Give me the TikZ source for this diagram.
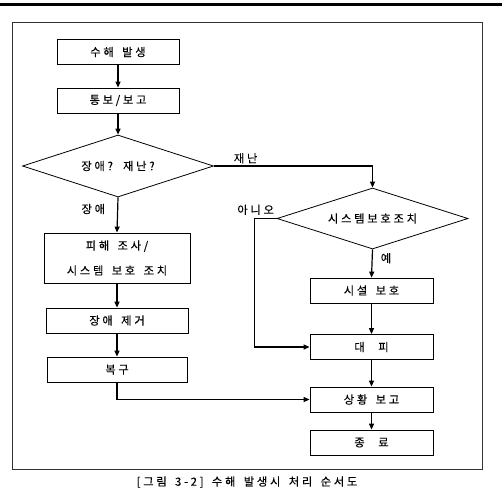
\documentclass[tikz,border=0pt]{standalone}
\usepackage{fontspec}
\usepackage{tikz}
\usetikzlibrary{arrows.meta,positioning,shapes.geometric}
\newfontfamily\krfont[LetterSpace=24,FakeBold=0.2,WordSpace=1.6]{Noto Sans CJK KR}

\begin{document}
\begin{tikzpicture}[x=1pt,y=-1pt,
    font=\krfont\fontsize{11.3pt}{25pt}\selectfont,
    box/.style={draw, line width=0.8pt, minimum height=25pt, inner sep=0pt},
    decision/.style={draw, diamond, line width=0.8pt, inner sep=0pt,
      minimum width=191pt, minimum height=62pt, aspect=3},
    flow/.style={line width=1.2pt, -{Triangle[length=6pt,width=5pt]}},
    lbl/.style={inner sep=2pt}]
  \useasboundingbox (0,0) rectangle (502,491);
  \draw[line width=3pt] (0,4.5) -- (502,4.5);
  \draw[line width=0.8pt, black!80] (12,22) rectangle (482,469);

  % left column
  \node[box, minimum width=122pt] (flood) at (118,52) {수해 발생};
  \node[box, minimum width=122pt] (notify) at (118,100.5) {통보/보고};
  \node[decision] (kind) at (118,166) {장애? 재난?};
  \node[box, minimum width=146pt, minimum height=50pt, align=center] (survey) at (117,258)
    {피해 조사/\\시스템 보호 조치};
  \node[box, minimum width=142pt] (clear) at (117,320.5) {장애 제거};
  \node[box, minimum width=140pt] (restore) at (117,369.5) {복구};

  % right column
  \node[decision, minimum height=61pt] (protect) at (372.5,218.5) {시스템보호조치};
  \node[box, minimum width=123pt] (facility) at (371.5,290.5) {시설 보호};
  \node[box, minimum width=123pt] (evacuate) at (371.5,347) {대\hspace{1.2em}피};
  \node[box, minimum width=123pt] (report) at (371.5,399.5) {상황 보고};
  \node[box, minimum width=123pt] (finish) at (371.5,442.5) {종\hspace{1.2em}료};

  \draw[flow] (flood) -- (notify);
  \draw[flow] (notify) -- (kind);
  \draw[flow] (kind.south) -- node[lbl, left=10pt, pos=0.33] {장애} (survey.north);
  \draw[flow] (kind.east) -- node[lbl, above, pos=0.2] {재난} (protect.north |- kind.east) -- (protect.north);
  \draw[flow] (protect.west) node[lbl, above left=1pt and 0pt] {아니오} -- ++(-22,0) |- (evacuate.west);
  \draw[flow] (protect.south) -- node[lbl, right=6pt, pos=0.31] {예} (facility.north);
  \draw[flow] (survey) -- (clear);
  \draw[flow] (clear) -- (restore);
  \draw[flow] (restore.south) |- (report.west);
  \draw[flow] (facility) -- (evacuate);
  \draw[flow] (evacuate) -- (report);
  \draw[flow] (report) -- (finish);

  \node[lbl] (caption) at (247,482) {[그림 3-2] 수해 발생시 처리 순서도};
\end{tikzpicture}
\end{document}
